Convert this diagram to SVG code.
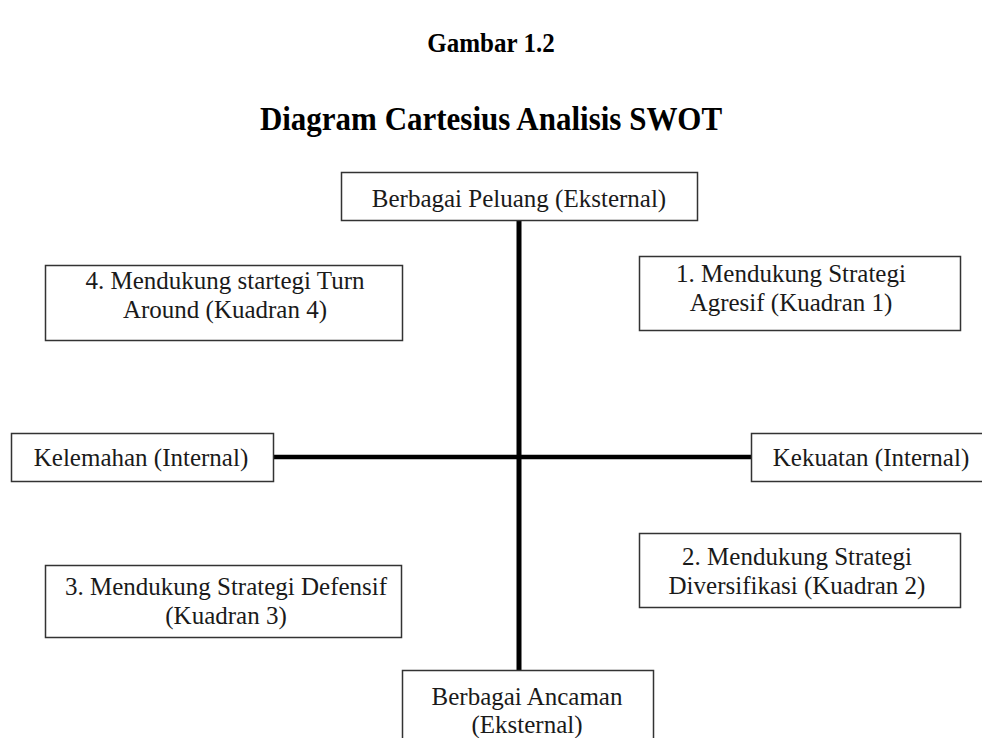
<svg xmlns="http://www.w3.org/2000/svg" width="982" height="738" viewBox="0 0 982 738">
<style>
.t{font-family:"Liberation Serif","Times New Roman",serif;font-size:25px;fill:#1a1a1a;text-anchor:middle}
.h{font-family:"Liberation Serif","Times New Roman",serif;font-weight:bold;fill:#000;text-anchor:middle}
.box{fill:#fff;stroke:#333;stroke-width:1.5}
.ax{stroke:#000;fill:none}
</style>
<rect width="982" height="738" fill="#fff"/>
<text class="h" font-size="25" transform="translate(491 52) scale(1 1.12)">Gambar 1.2</text>
<text class="h" font-size="31" transform="translate(491 130) scale(1 1.08)">Diagram Cartesius Analisis SWOT</text>
<g id="connectors">
<line class="ax" x1="519" y1="221" x2="519" y2="670" stroke-width="5"/>
<line class="ax" x1="273" y1="457" x2="751" y2="457" stroke-width="4.5"/>
</g>
<g id="peluang">
<rect class="box" x="341.5" y="172.5" width="356" height="48"/>
<text class="t" x="519" y="207">Berbagai Peluang (Eksternal)</text>
</g>
<g id="kuadran4">
<rect class="box" x="45.5" y="265.5" width="357" height="75"/>
<text class="t" x="225" y="289">4. Mendukung startegi Turn</text>
<text class="t" x="225" y="318">Around (Kuadran 4)</text>
</g>
<g id="kuadran1">
<rect class="box" x="639.5" y="256.5" width="321" height="74"/>
<text class="t" x="791" y="282">1. Mendukung Strategi</text>
<text class="t" x="791" y="311">Agresif (Kuadran 1)</text>
</g>
<g id="kelemahan">
<rect class="box" x="11.5" y="433.5" width="262" height="48"/>
<text class="t" x="141" y="466">Kelemahan (Internal)</text>
</g>
<g id="kekuatan">
<rect class="box" x="751.5" y="433.5" width="240" height="48"/>
<text class="t" x="871" y="466">Kekuatan (Internal)</text>
</g>
<g id="kuadran3">
<rect class="box" x="45.5" y="565.5" width="356" height="72"/>
<text class="t" x="226" y="595">3. Mendukung Strategi Defensif</text>
<text class="t" x="226" y="624">(Kuadran 3)</text>
</g>
<g id="kuadran2">
<rect class="box" x="639.5" y="533.5" width="321" height="74"/>
<text class="t" x="797" y="565">2. Mendukung Strategi</text>
<text class="t" x="797" y="594">Diversifikasi (Kuadran 2)</text>
</g>
<g id="ancaman">
<rect class="box" x="402.5" y="670.5" width="251" height="80"/>
<text class="t" x="527" y="705">Berbagai Ancaman</text>
<text class="t" x="527" y="733">(Eksternal)</text>
</g>
</svg>
